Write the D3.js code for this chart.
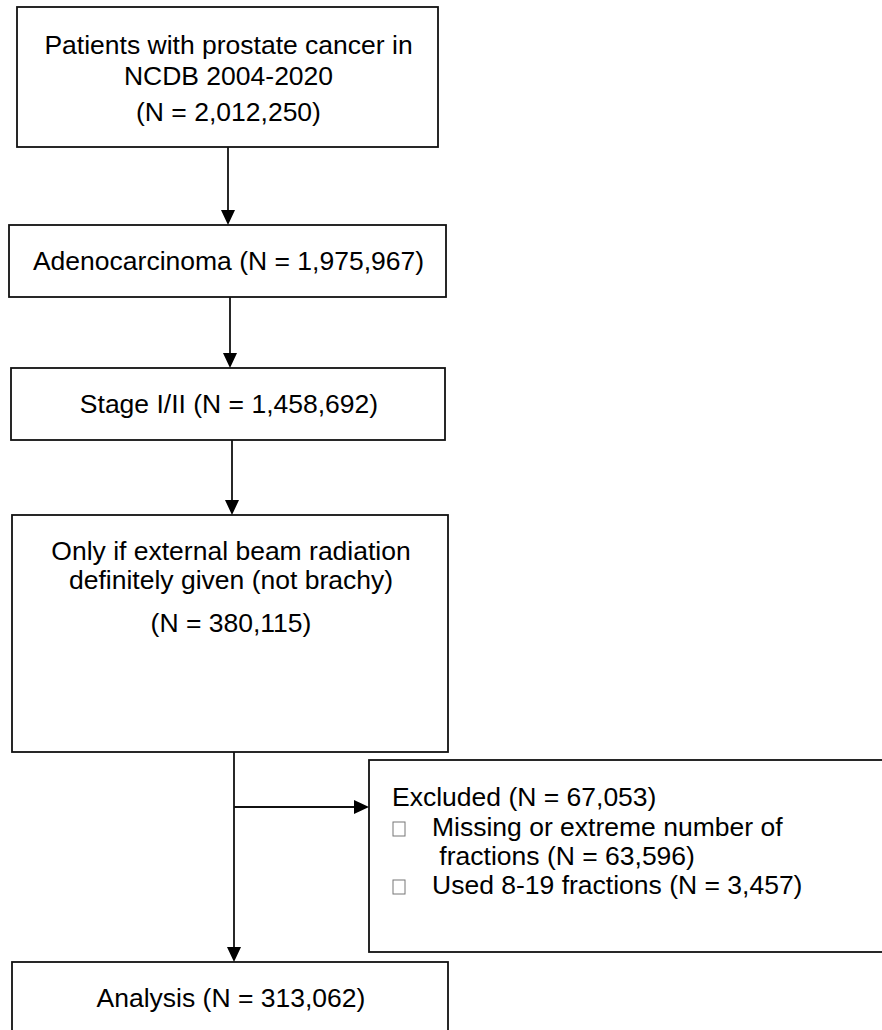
<!DOCTYPE html>
<html>
<head>
<meta charset="utf-8">
<script src="https://cdn.jsdelivr.net/npm/d3@7"></script>
<style>
  html, body { margin: 0; padding: 0; background: #fff; }
  svg { display: block; }
</style>
</head>
<body>
<div id="chart"></div>
<script>
// ── Flow diagram: cohort selection ─────────────────────────

// Box texts, top to bottom
const boxIds = ['source', 'histology', 'stage', 'ebrt', 'analysis'];
const boxLines = [
    ['Patients with prostate cancer in', 'NCDB 2004-2020', '(N = 2,012,250)'],
    ['Adenocarcinoma (N = 1,975,967)'],
    ['Stage I/II (N = 1,458,692)'],
    ['Only if external beam radiation', 'definitely given (not brachy)', '(N = 380,115)'],
    ['Analysis (N = 313,062)']
];

// Exclusion box
const excludedTitle = 'Excluded (N = 67,053)';
const excludedItems = [
    ['Missing or extreme number of', ' fractions (N = 63,596)'],
    ['Used 8-19 fractions (N = 3,457)']
];

// ── layout (pixels) ────────────────────────────────────────
const width = 882, height = 1030;

const layout = {
    source:    { x0: 17, x1: 438, y0: 7,   y1: 147,  baselines: [54, 85, 121] },
    histology: { x0: 9,  x1: 446, y0: 225, y1: 297,  baselines: [270] },
    stage:     { x0: 11, x1: 445, y0: 368, y1: 440,  baselines: [413] },
    ebrt:      { x0: 12, x1: 448, y0: 515, y1: 752,  baselines: [560, 589, 632] },
    analysis:  { x0: 12, x1: 448, y0: 962, y1: 1045, baselines: [1007] }
};
const excludedBox = { x0: 369, x1: 892, y0: 760, y1: 952 };
const excludedBaselines = [806, 836, 865, 894];

const arrows = [
    { x: 228, y0: 147, y1: 225 },
    { x: 230, y0: 297, y1: 368 },
    { x: 232, y0: 440, y1: 515 },
    { x: 234, y0: 752, y1: 962 }
];
const sideArrow = { y: 807, x0: 234, x1: 369 };

const font = "'Liberation Sans', Arial, sans-serif";
const fontSize = 26.5;
const stroke = '#111';

const svg = d3.select('#chart')
    .append('svg')
    .attr('width', width)
    .attr('height', height)
    .attr('viewBox', [0, 0, width, height]);

// Boxes
const boxes = boxIds.map((id, i) => ({ id, lines: boxLines[i], ...layout[id] }));

svg.append('g')
    .attr('fill', 'none')
    .attr('stroke', stroke)
    .attr('stroke-width', 1.8)
    .selectAll('rect')
    .data(boxes.concat([excludedBox]))
    .join('rect')
    .attr('x', d => d.x0)
    .attr('y', d => d.y0)
    .attr('width', d => d.x1 - d.x0)
    .attr('height', d => d.y1 - d.y0);

// Box labels
const label = svg.append('g')
    .attr('font-family', font)
    .attr('font-size', fontSize)
    .attr('fill', '#000')
    .attr('text-anchor', 'middle')
    .selectAll('g')
    .data(boxes)
    .join('g');

label.selectAll('text')
    .data(d => d.lines.map((t, i) => ({ t, x: (d.x0 + d.x1) / 2 + 1, y: d.baselines[i] })))
    .join('text')
    .attr('x', d => d.x)
    .attr('y', d => d.y)
    .text(d => d.t);

// Arrows (vertical)
const arrowG = svg.append('g')
    .attr('stroke', stroke)
    .attr('stroke-width', 1.8);

arrowG.selectAll('line.v')
    .data(arrows)
    .join('line')
    .attr('class', 'v')
    .attr('x1', d => d.x).attr('x2', d => d.x)
    .attr('y1', d => d.y0).attr('y2', d => d.y1 - 12);

svg.append('g')
    .attr('fill', '#000')
    .selectAll('path.v')
    .data(arrows)
    .join('path')
    .attr('class', 'v')
    .attr('d', d => `M${d.x - 7},${d.y1 - 15}L${d.x + 7},${d.y1 - 15}L${d.x},${d.y1}Z`);

// Side arrow to the exclusion box
arrowG.append('line')
    .attr('x1', sideArrow.x0).attr('x2', sideArrow.x1 - 12)
    .attr('y1', sideArrow.y).attr('y2', sideArrow.y);

svg.append('path')
    .attr('fill', '#000')
    .attr('d', `M${sideArrow.x1 - 15},${sideArrow.y - 7}L${sideArrow.x1 - 15},${sideArrow.y + 7}L${sideArrow.x1},${sideArrow.y}Z`);

// Exclusion text
const exG = svg.append('g')
    .attr('font-family', font)
    .attr('font-size', fontSize)
    .attr('fill', '#000');

exG.append('text')
    .attr('x', 392)
    .attr('y', excludedBaselines[0])
    .text(excludedTitle);

let row = 1;
excludedItems.forEach(lines => {
    // missing-glyph bullet, drawn as a hollow box
    svg.append('rect')
        .attr('x', 393)
        .attr('y', excludedBaselines[row] - 14)
        .attr('width', 12)
        .attr('height', 14)
        .attr('fill', 'none')
        .attr('stroke', '#777')
        .attr('stroke-width', 1);
    lines.forEach(t => {
        exG.append('text')
            .attr('x', 432)
            .attr('y', excludedBaselines[row])
            .attr('xml:space', 'preserve')
            .style('white-space', 'pre')
            .text(t);
        row++;
    });
});
</script>
</body>
</html>
